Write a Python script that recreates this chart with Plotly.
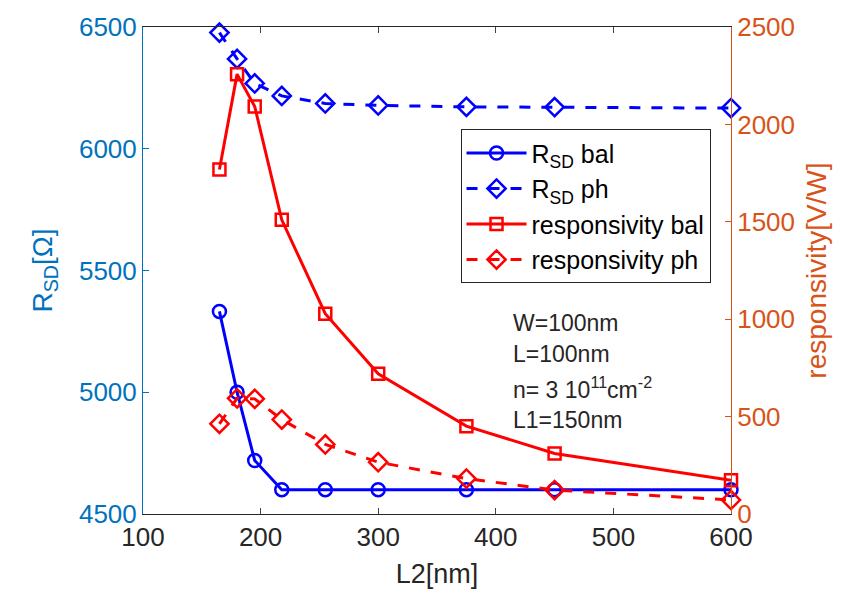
import plotly.graph_objects as go

# ---- data ----
L2 = [165, 180, 195, 218, 255, 300, 375, 450, 600]
rsd_bal = [5332, 5000, 4720, 4600, 4600, 4600, 4600, 4600, 4600]
rsd_ph = [6477, 6369, 6268, 6217, 6186, 6178, 6172, 6171, 6167]
resp_bal = [1768, 2258, 2092, 1510, 1028, 720, 451, 311, 173]
resp_ph = [463, 594, 591, 485, 357, 266, 182, 123, 72]

x_ticks = [100, 200, 300, 400, 500, 600]
left_ticks = [4500, 5000, 5500, 6000, 6500]
right_ticks = [0, 500, 1000, 1500, 2000, 2500]

notes = ["W=100nm", "L=100nm", "n= 3 10<sup>11</sup>cm<sup>-2</sup>", "L1=150nm"]

BLUE = "#0000FF"
RED = "#FF0000"
LBLUE = "#0072BD"
ORANGE = "#D95319"
DARK = "#262626"
FONT = "Liberation Sans, Arial, sans-serif"

fig = go.Figure()
fig.add_trace(go.Scatter(
    x=L2, y=rsd_bal, name="R<sub>SD</sub> bal", mode="lines+markers",
    line=dict(color=BLUE, width=3),
    marker=dict(symbol="circle-open", size=13, color=BLUE, line=dict(width=2.5, color=BLUE)),
    cliponaxis=False, yaxis="y"))
fig.add_trace(go.Scatter(
    x=L2, y=rsd_ph, name="R<sub>SD</sub> ph", mode="lines+markers",
    line=dict(color=BLUE, width=3, dash="11px,11px"),
    marker=dict(symbol="diamond-open", size=14, color=BLUE, line=dict(width=2.5, color=BLUE)),
    cliponaxis=False, yaxis="y"))
fig.add_trace(go.Scatter(
    x=L2, y=resp_bal, name="responsivity bal", mode="lines+markers",
    line=dict(color=RED, width=3),
    marker=dict(symbol="square-open", size=12, color=RED, line=dict(width=2.5, color=RED)),
    cliponaxis=False, yaxis="y2"))
fig.add_trace(go.Scatter(
    x=L2, y=resp_ph, name="responsivity ph", mode="lines+markers",
    line=dict(color=RED, width=3, dash="11px,11px"),
    marker=dict(symbol="diamond-open", size=14, color=RED, line=dict(width=2.5, color=RED)),
    cliponaxis=False, yaxis="y2"))

note_y = [0.393, 0.328, 0.259, 0.194]
for txt, yy in zip(notes, note_y):
    fig.add_annotation(text=txt, x=0.626, y=yy, xref="paper", yref="paper",
                       xanchor="left", yanchor="middle", showarrow=False,
                       font=dict(family=FONT, size=23, color=DARK))

fig.update_layout(
    width=846, height=602,
    margin=dict(l=143, r=115, t=19, b=88),
    paper_bgcolor="white", plot_bgcolor="white",
    font=dict(family=FONT, size=26, color=DARK),
    showlegend=True,
    legend=dict(x=0.54, y=0.79, xanchor="left", yanchor="top",
                bgcolor="white", bordercolor=DARK, borderwidth=1,
                font=dict(family=FONT, size=25, color="black"),
                itemwidth=60, tracegroupgap=0),
    xaxis=dict(range=[100, 600], tickvals=x_ticks, ticks="inside", ticklen=6,
               showline=True, linecolor=DARK, linewidth=1, mirror="ticks",
               showgrid=False, zeroline=False,
               tickfont=dict(family=FONT, size=26, color=DARK),
               title=dict(text="L2[nm]", font=dict(family=FONT, size=27, color=DARK), standoff=12)),
    yaxis=dict(range=[4500, 6500], tickvals=left_ticks, ticks="inside", ticklen=6,
               showline=True, linecolor=LBLUE, linewidth=1, tickcolor=LBLUE,
               showgrid=False, zeroline=False,
               tickfont=dict(family=FONT, size=26, color=LBLUE),
               title=dict(text="R<sub>SD</sub>[Ω]", font=dict(family=FONT, size=28, color=LBLUE), standoff=18)),
    yaxis2=dict(range=[0, 2500], tickvals=right_ticks, ticks="inside", ticklen=6,
                overlaying="y", side="right",
                showline=True, linecolor=ORANGE, linewidth=1, tickcolor=ORANGE,
                showgrid=False, zeroline=False,
                tickfont=dict(family=FONT, size=26, color=ORANGE),
                title=dict(text="responsivity[V/W]", font=dict(family=FONT, size=28, color=ORANGE), standoff=12)),
)

fig.write_html("out.html")
